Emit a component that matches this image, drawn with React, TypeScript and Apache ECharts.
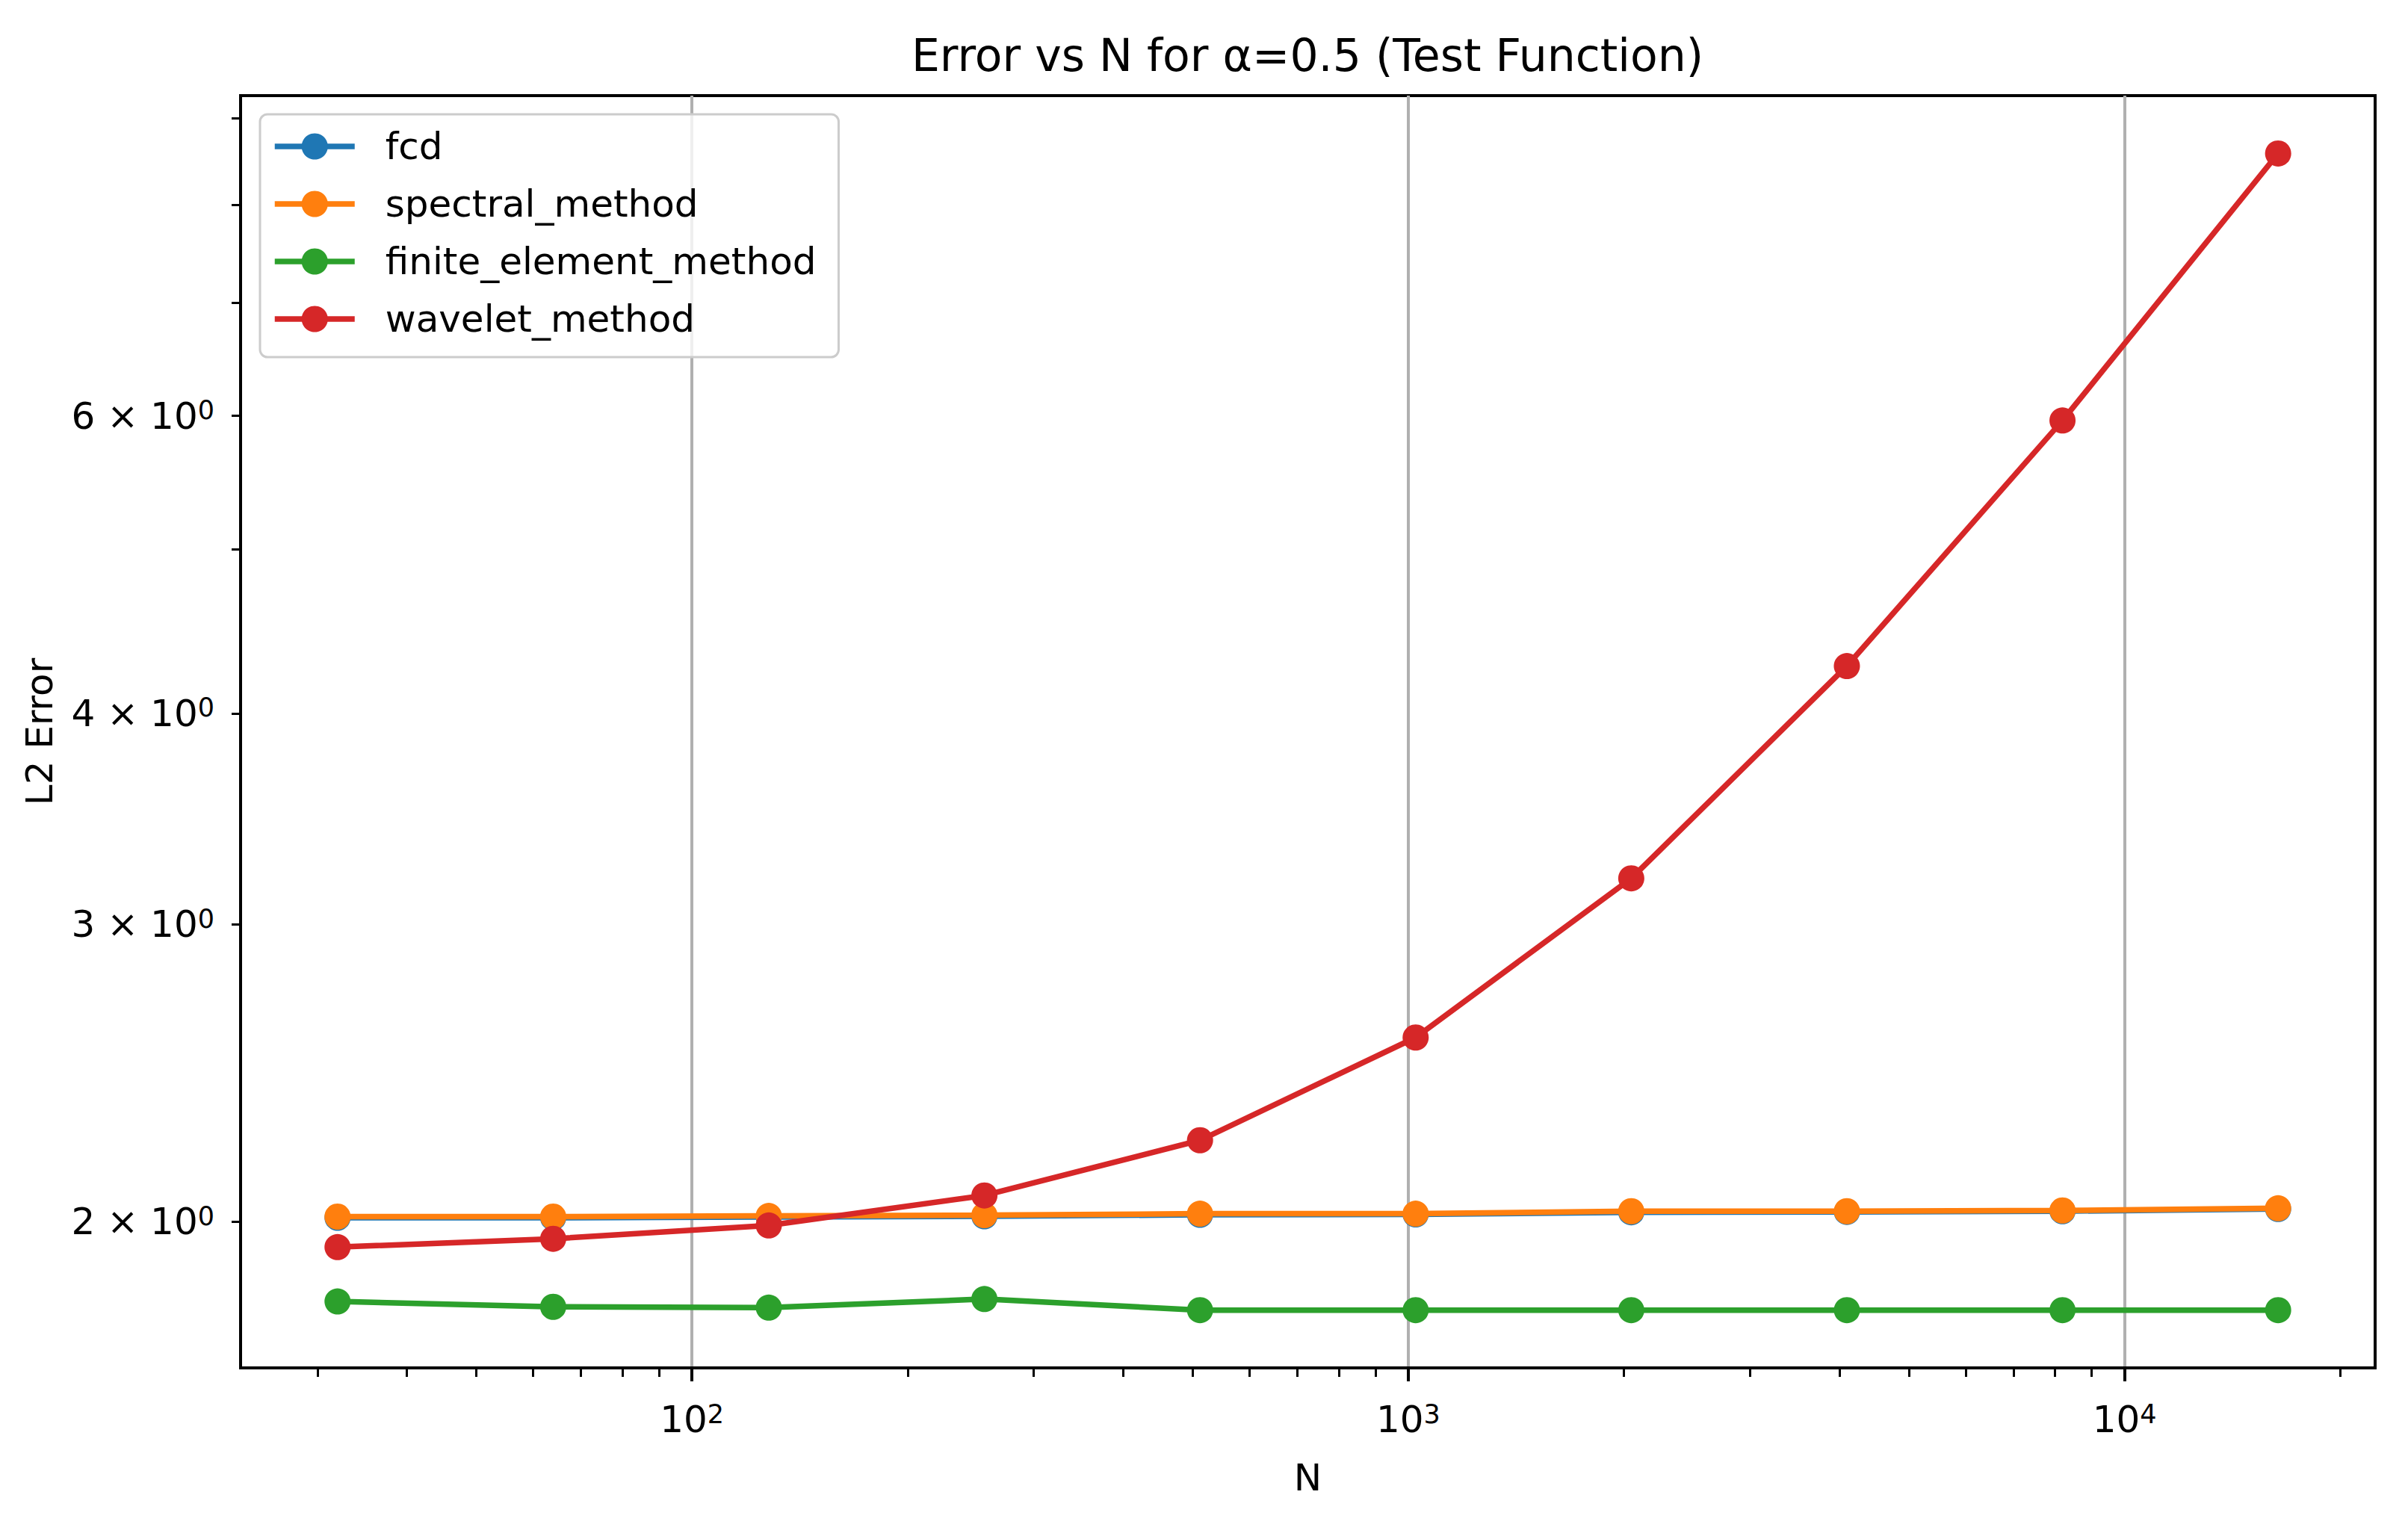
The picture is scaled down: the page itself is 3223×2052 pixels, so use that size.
import React, { useEffect, useRef } from 'react';
import * as echarts from 'echarts';

const FONT = '"DejaVu Sans", sans-serif';
const TITLE = 'Error vs N for α=0.5 (Test Function)';
const X_NAME = 'N';
const Y_NAME = 'L2 Error';

const N_VALUES = [32, 64, 128, 256, 512, 1024, 2048, 4096, 8192, 16384];
const FCD = [2.011, 2.011, 2.013, 2.015, 2.019, 2.02, 2.026, 2.027, 2.029, 2.035];
const SPECTRAL = [2.014, 2.014, 2.016, 2.018, 2.022, 2.022, 2.029, 2.029, 2.031, 2.037];
const FEM = [1.794, 1.781, 1.779, 1.8, 1.773, 1.773, 1.773, 1.773, 1.773, 1.773];
const WAVELET = [1.932, 1.954, 1.99, 2.073, 2.235, 2.571, 3.194, 4.266, 5.962, 8.58];

const SERIES_NAMES = ['fcd', 'spectral_method', 'finite_element_method', 'wavelet_method'];
const SERIES_VALUES = [FCD, SPECTRAL, FEM, WAVELET];
const COLORS = ['#1f77b4', '#ff7f0e', '#2ca02c', '#d62728'];

const X_MIN = 23.43;
const X_MAX = 22380;
const Y_MIN = 1.6387;
const Y_MAX = 9.284;

const X_MAJOR_TICKS = [100, 1000, 10000];
const X_MINOR_TICKS = [
  30, 40, 50, 60, 70, 80, 90,
  200, 300, 400, 500, 600, 700, 800, 900,
  2000, 3000, 4000, 5000, 6000, 7000, 8000, 9000,
  20000,
];
const Y_TICKS = [2, 3, 4, 5, 6, 7, 8, 9];
const Y_LABELS = [2, 3, 4, 6];

export default function App() {
  const ref = useRef<HTMLDivElement>(null);

  useEffect(() => {
    if (!ref.current) return;
    const chart = echarts.init(ref.current, undefined, { renderer: 'svg' });

    const option: any = {
      animation: false,
      backgroundColor: '#ffffff',
      textStyle: { fontFamily: FONT },
      graphic: [
        {
          type: 'text',
          x: 1750,
          y: 74,
          style: {
            text: TITLE,
            fontSize: 60,
            fontFamily: FONT,
            fill: '#000',
            align: 'center',
            verticalAlign: 'middle',
          },
        },
      ],
      legend: {
        data: SERIES_NAMES,
        orient: 'vertical',
        left: 348,
        top: 153,
        padding: [18, 30, 26, 16],
        itemWidth: 107,
        itemHeight: 44,
        itemGap: 27,
        backgroundColor: 'rgba(255,255,255,0.8)',
        borderColor: '#cccccc',
        borderWidth: 3,
        borderRadius: 10,
        lineStyle: { width: 7.5 },
        textStyle: {
          fontSize: 50,
          lineHeight: 50,
          color: '#000',
          fontFamily: FONT,
          padding: [0, 0, 0, 36],
        },
      },
      grid: {
        left: 322,
        right: 44,
        top: 128,
        bottom: 221,
        show: true,
        borderColor: '#000',
        borderWidth: 4,
        backgroundColor: 'transparent',
      },
      xAxis: [
        {
          type: 'log',
          logBase: 10,
          min: X_MIN,
          max: X_MAX,
          name: X_NAME,
          nameLocation: 'middle',
          nameGap: 122,
          nameTextStyle: { fontSize: 50, color: '#000', fontFamily: FONT },
          axisLine: { show: true, lineStyle: { color: '#000', width: 4 } },
          axisTick: {
            show: true,
            customValues: X_MAJOR_TICKS,
            length: 18,
            lineStyle: { color: '#000', width: 4 },
          },
          axisLabel: {
            show: true,
            customValues: X_MAJOR_TICKS,
            margin: 44,
            formatter: (v: number) => `{b|10}{s|${Math.round(Math.log10(v))}}`,
            rich: {
              b: { fontSize: 50, lineHeight: 50, color: '#000', fontFamily: FONT },
              s: { fontSize: 35, lineHeight: 18, verticalAlign: 'top', color: '#000', fontFamily: FONT },
            },
          },
          splitLine: { show: true, lineStyle: { color: '#b0b0b0', width: 4 } },
        },
        {
          type: 'log',
          logBase: 10,
          min: X_MIN,
          max: X_MAX,
          gridIndex: 0,
          position: 'bottom',
          axisLine: { show: false },
          axisLabel: { show: false },
          splitLine: { show: false },
          axisTick: {
            show: true,
            customValues: X_MINOR_TICKS,
            length: 12,
            lineStyle: { color: '#000', width: 3 },
          },
        },
      ],
      yAxis: {
        type: 'log',
        logBase: 10,
        min: Y_MIN,
        max: Y_MAX,
        name: Y_NAME,
        nameLocation: 'middle',
        nameGap: 244,
        nameRotate: 90,
        nameTextStyle: { fontSize: 50, color: '#000', fontFamily: FONT },
        axisLine: { show: true, lineStyle: { color: '#000', width: 4 } },
        axisTick: {
          show: true,
          customValues: Y_TICKS,
          length: 12,
          lineStyle: { color: '#000', width: 3 },
        },
        axisLabel: {
          show: true,
          customValues: Y_LABELS,
          margin: 35,
          formatter: (v: number) => `{b|${Math.round(v)} × 10}{s|0}`,
          rich: {
            b: { fontSize: 50, lineHeight: 50, color: '#000', fontFamily: FONT },
            s: { fontSize: 35, lineHeight: 18, verticalAlign: 'top', color: '#000', fontFamily: FONT },
          },
        },
        splitLine: { show: false },
      },
      series: SERIES_NAMES.map((name, i) => ({
        name,
        type: 'line',
        xAxisIndex: 0,
        yAxisIndex: 0,
        data: N_VALUES.map((n, j) => [n, SERIES_VALUES[i][j]]),
        symbol: 'circle',
        symbolSize: 35,
        showSymbol: true,
        showAllSymbol: true,
        lineStyle: { color: COLORS[i], width: 7.5 },
        itemStyle: { color: COLORS[i] },
        emphasis: { disabled: true },
        z: 2 + i,
      })),
    };

    chart.setOption(option);
    return () => {
      chart.dispose();
    };
  }, []);

  return (
    <div
      ref={ref}
      style={{ position: 'absolute', left: 0, top: 0, width: 3223, height: 2052 }}
    />
  );
}
